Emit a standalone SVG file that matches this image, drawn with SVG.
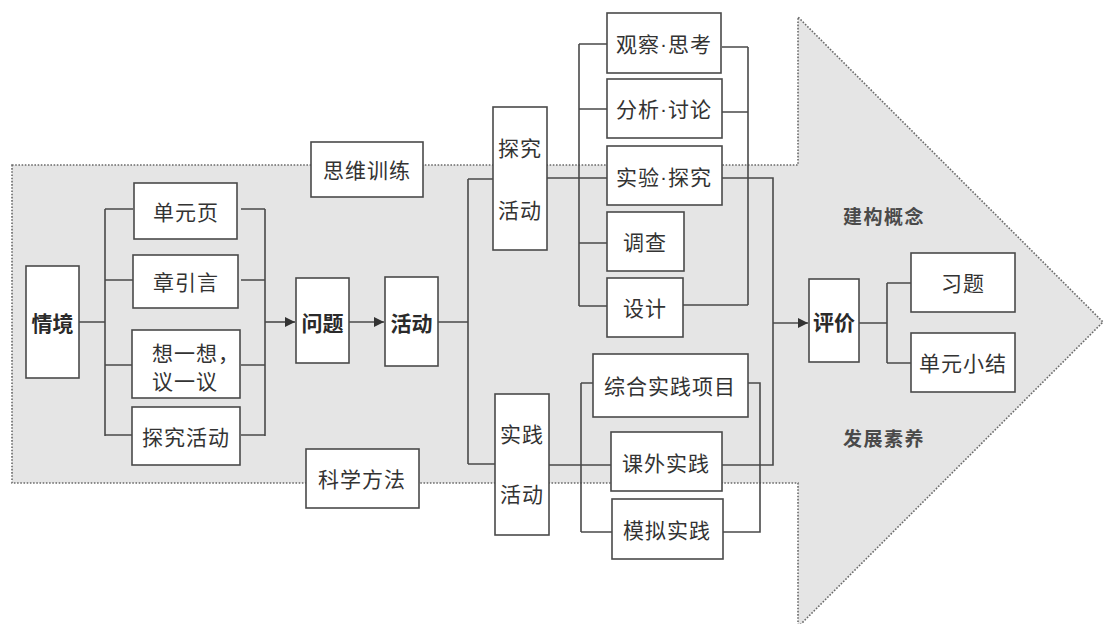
<svg xmlns="http://www.w3.org/2000/svg" width="1107" height="624" viewBox="0 0 1107 624">
<defs>
<style>
.bg{fill:#e5e5e5;stroke:#6a6a6a;stroke-width:1.6;stroke-dasharray:1.6 1.6}
.box{fill:#ffffff;stroke:#4a4a4a;stroke-width:1.6}
.ln{fill:none;stroke:#4a4a4a;stroke-width:1.6}
text{font-family:"Noto Sans CJK SC","Noto Sans",sans-serif;font-size:21px;fill:#333;text-anchor:middle;dominant-baseline:central;letter-spacing:1px}
.b{font-weight:bold;fill:#2a2a2a;letter-spacing:0}
.lbl{font-weight:bold;fill:#4a4a4a;font-size:19px;letter-spacing:1.5px}
.dot{font-family:"Liberation Sans",sans-serif}
</style>
<marker id="ah" viewBox="0 0 10 10" refX="10" refY="5" markerWidth="10" markerHeight="10" markerUnits="userSpaceOnUse" orient="auto">
<path d="M0,0 L10,5 L0,10 z" fill="#333"/>
</marker>
</defs>
<rect width="1107" height="624" fill="#ffffff"/>
<polygon class="bg" points="12,165 798,165 798,17 1103,322 798,627 798,483 12,483"/>
<text class="lbl" x="884" y="215">建构概念</text>
<text class="lbl" x="884" y="437">发展素养</text>
<g id="connectors">
<path class="ln" d="M79,322 H105 M105,209 V436 M105,209 H133 M105,280 H133 M105,365 H132 M105,435 H132"/>
<path class="ln" d="M241,209 H265 M241,280 H265 M241,365 H265 M241,435 H265 M265,209 V436"/>
<path class="ln" marker-end="url(#ah)" d="M265,322 H295"/>
<path class="ln" marker-end="url(#ah)" d="M349,322 H384"/>
<path class="ln" d="M438,322 H468 M468,179 V464 M468,179 H493 M468,464 H495"/>
<path class="ln" d="M547,178 H607 M549,465 H611"/>
<path class="ln" d="M579,44 V306 M579,44 H607 M579,109 H607 M579,243 H607 M579,306 H607"/>
<path class="ln" d="M722,47 H748 M722,112 H748 M683,305 H748 M748,47 V305"/>
<path class="ln" d="M722,178 H773 V465 H722"/>
<path class="ln" d="M581,383 V532 M581,383 H593 M581,532 H612"/>
<path class="ln" d="M748,383 H760 V532 H723"/>
<path class="ln" marker-end="url(#ah)" d="M773,323 H808"/>
<path class="ln" d="M859,323 H887 M887,283 V363 M887,283 H911 M887,363 H911"/>
</g>
<g id="n-qingjing"><rect class="box" x="26" y="266" width="53" height="112"/><text class="b" x="52.5" y="322">情境</text></g>
<g id="n-danyuanye"><rect class="box" x="134" y="183" width="103" height="56"/><text x="186" y="211">单元页</text></g>
<g id="n-zhangyinyan"><rect class="box" x="133" y="255" width="105" height="53"/><text x="186" y="281">章引言</text></g>
<g id="n-xiangyixiang"><rect class="box" x="132" y="330" width="108" height="68"/><text x="152" y="352" style="text-anchor:start">想一想，</text><text x="152" y="380" style="text-anchor:start">议一议</text></g>
<g id="n-tanjiuhuodong1"><rect class="box" x="132" y="407" width="108" height="58"/><text x="186" y="436">探究活动</text></g>
<g id="n-siwei"><rect class="box" x="311" y="142" width="112" height="55"/><text x="367" y="169">思维训练</text></g>
<g id="n-kexue"><rect class="box" x="306" y="449" width="113" height="59"/><text x="362" y="478">科学方法</text></g>
<g id="n-wenti"><rect class="box" x="296" y="278" width="53" height="85"/><text class="b" x="322.5" y="322">问题</text></g>
<g id="n-huodong"><rect class="box" x="385" y="277" width="53" height="89"/><text class="b" x="411.5" y="322">活动</text></g>
<g id="n-tanjiu"><rect class="box" x="493" y="107" width="54" height="143"/><text x="520" y="147">探究</text><text x="520" y="209">活动</text></g>
<g id="n-shijian"><rect class="box" x="495" y="394" width="54" height="141"/><text x="522" y="433">实践</text><text x="522" y="493">活动</text></g>
<g id="n-guancha"><rect class="box" x="607" y="13" width="114" height="60"/><text x="664" y="43">观察<tspan class="dot">·</tspan>思考</text></g>
<g id="n-fenxi"><rect class="box" x="607" y="79" width="115" height="59"/><text x="664" y="108">分析<tspan class="dot">·</tspan>讨论</text></g>
<g id="n-shiyan"><rect class="box" x="607" y="146" width="115" height="59"/><text x="664" y="176">实验<tspan class="dot">·</tspan>探究</text></g>
<g id="n-diaocha"><rect class="box" x="607" y="212" width="77" height="59"/><text x="645" y="241">调查</text></g>
<g id="n-sheji"><rect class="box" x="607" y="278" width="76" height="59"/><text x="645" y="307">设计</text></g>
<g id="n-zonghe"><rect class="box" x="593" y="354" width="155" height="63"/><text x="670" y="385">综合实践项目</text></g>
<g id="n-kewai"><rect class="box" x="611" y="432" width="111" height="59"/><text x="666" y="462">课外实践</text></g>
<g id="n-moni"><rect class="box" x="612" y="499" width="111" height="60"/><text x="667" y="529">模拟实践</text></g>
<g id="n-pingjia"><rect class="box" x="809" y="279" width="50" height="83"/><text class="b" x="834" y="321">评价</text></g>
<g id="n-xiti"><rect class="box" x="911" y="253" width="104" height="59"/><text x="963" y="282">习题</text></g>
<g id="n-xiaojie"><rect class="box" x="911" y="333" width="104" height="59"/><text x="963" y="362">单元小结</text></g>
</svg>
